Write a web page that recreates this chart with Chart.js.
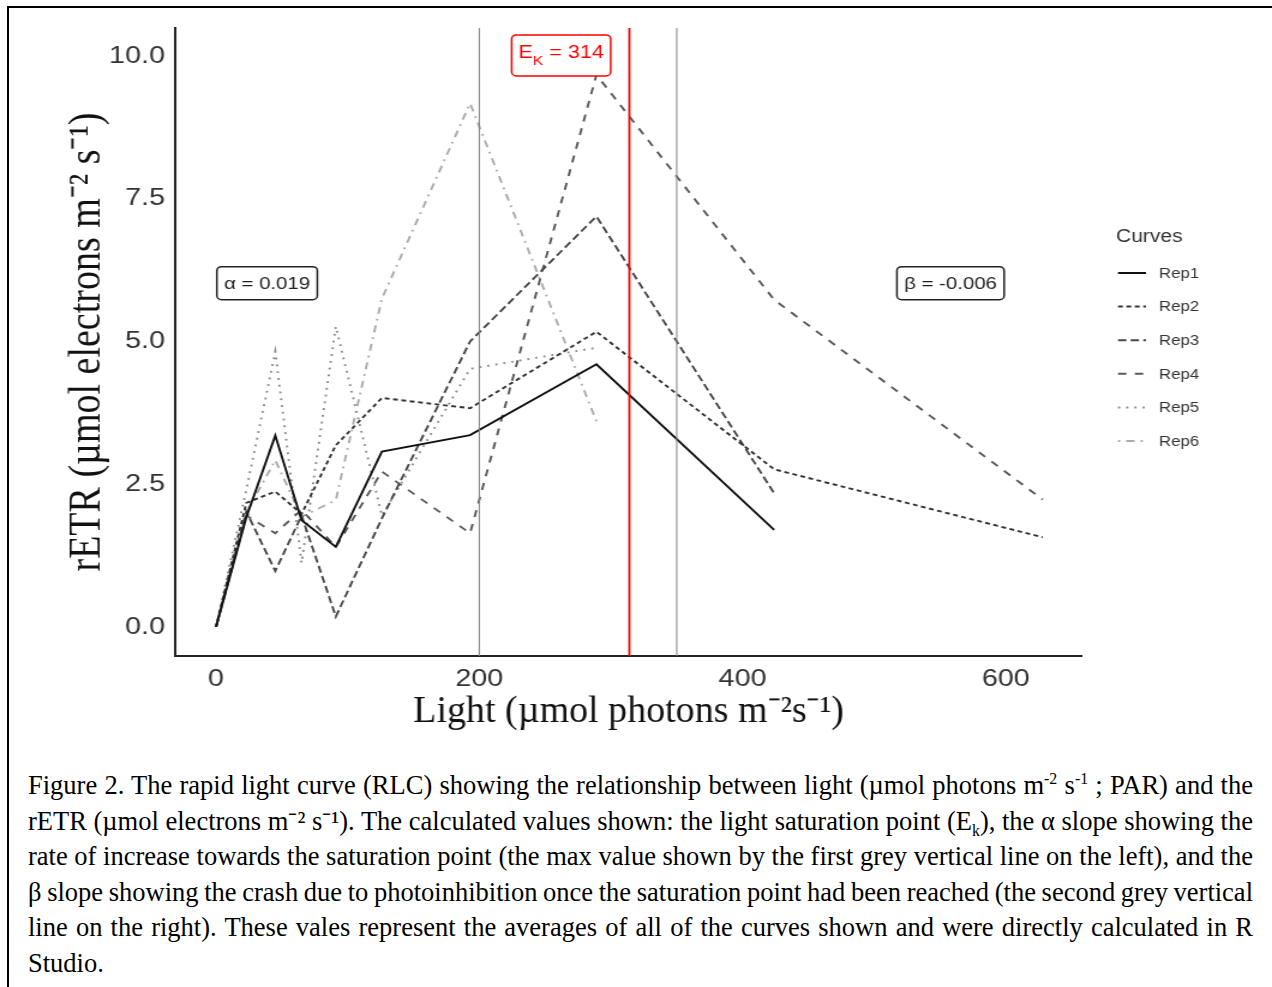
<!DOCTYPE html>
<html>
<head>
<meta charset="utf-8">
<script src="https://cdn.jsdelivr.net/npm/chart.js@4/dist/chart.umd.min.js"></script>
<style>
  html, body { margin: 0; padding: 0; background: #fff; }
  body { width: 1272px; height: 987px; position: relative; overflow: hidden; }
  #frame { position: absolute; left: 7px; top: 6px; width: 1300px; height: 1000px; border: 2px solid #000; box-sizing: border-box; }
  #wrap { position: absolute; left: 0; top: 0; width: 1060px; height: 760px; transform: scaleX(1.2); transform-origin: 0 0; }
  #caption { position: absolute; left: 28px; top: 768px; width: 1225px; font-family: "Liberation Serif", "Times New Roman", serif; font-size: 26.5px; word-spacing: -0.5px; line-height: 35.5px; color: #000; }
  #caption .ln { white-space: nowrap; text-align: justify; text-align-last: justify; height: 35.5px; }
  #caption .ln.tight { word-spacing: -2.5px; }
  #caption .ln.last { text-align-last: left; }
  #caption sup, #caption sub { font-size: 0.6em; line-height: 0; }
</style>
</head>
<body>
<div id="frame"></div>
<div id="wrap"><canvas id="myChart" width="1060" height="760"></canvas></div>
<div id="caption">
  <div class="ln">Figure 2. The rapid light curve (RLC) showing the relationship between light (µmol photons m<sup>-2</sup> s<sup>-1</sup> ; PAR) and the</div>
  <div class="ln">rETR (µmol electrons m⁻² s⁻¹). The calculated values shown: the light saturation point (E<sub>k</sub>), the α slope showing the</div>
  <div class="ln">rate of increase towards the saturation point (the max value shown by the first grey vertical line on the left), and the</div>
  <div class="ln tight">β slope showing the crash due to photoinhibition once the saturation point had been reached (the second grey vertical</div>
  <div class="ln">line on the right). These vales represent the averages of all of the curves shown and were directly calculated in R</div>
  <div class="ln last">Studio.</div>
</div>
<script>
// light steps (PAR) and rETR per replicate
const light = [0, 23, 45, 65, 91, 126, 193, 289, 424, 628];
const rep1 = [0, 1.92, 3.35, 1.87, 1.40, 3.07, 3.36, 4.60, 1.70];
const rep2 = [0, 2.17, 2.37, 1.98, 3.18, 4.01, 3.83, 5.17, 2.76, 1.57];
const rep3 = [0, 2.02, 0.98, 1.95, 0.18, 1.90, 5.00, 7.19, 2.34];
const rep4 = [0, 1.95, 1.64, 2.05, 1.40, 2.72, 1.64, 9.67, 5.73, 2.23];
const rep5 = [0, 2.40, 4.82, 1.12, 5.26, 1.95, 4.52, 4.89];
const rep6 = [0, 2.00, 2.92, 1.93, 2.22, 5.75, 9.17, 3.60];

const xTicks = [0, 200, 400, 600];
const yTicks = [0, 2.5, 5, 7.5, 10];

// fitted values
const alphaLimit = 200;
const betaLimit = 350;
const ek = 314;
const alphaText = 'α = 0.019';
const betaText = 'β = -0.006';
const xTitle = 'Light (µmol photons m⁻²s⁻¹)';

const sans = "'Liberation Sans', Arial, sans-serif";
const serif = "'Liberation Serif', 'Times New Roman', serif";
const stretch = 1.2; // the wrapper is stretched horizontally by this much

function pts (ys) {
  return ys.map((v, i) => ({ x: light[i], y: v }));
}

const series = [
  { label: 'Rep1', data: pts(rep1), borderColor: '#111111', borderDash: [] },
  { label: 'Rep2', data: pts(rep2), borderColor: '#333333', borderDash: [4, 3] },
  { label: 'Rep3', data: pts(rep3), borderColor: '#474747', borderDash: [7, 3.5] },
  { label: 'Rep4', data: pts(rep4), borderColor: '#585858', borderDash: [7, 7] },
  { label: 'Rep5', data: pts(rep5), borderColor: '#8a8a8a', borderDash: [1.8, 5] },
  { label: 'Rep6', data: pts(rep6), borderColor: '#ababab', borderDash: [1.8, 5, 7, 5] }
];

function labelBox (ctx, cx, cy, w, h, color) {
  ctx.beginPath();
  ctx.roundRect(cx - w / 2, cy - h / 2, w, h, 4);
  ctx.fillStyle = '#fff';
  ctx.fill();
  ctx.lineWidth = 1.5;
  ctx.strokeStyle = color;
  ctx.stroke();
}

const extras = {
  id: 'extras',
  afterDatasetsDraw (chart) {
    const { ctx, chartArea: a, scales: { x, y } } = chart;
    ctx.save();

    // saturation limits + Ek
    [[alphaLimit, '#808080', 1], [betaLimit, '#808080', 1], [ek, '#ff0000', 1.8]].forEach(([v, c, w]) => {
      const px = x.getPixelForValue(v);
      ctx.strokeStyle = c;
      ctx.lineWidth = w;
      ctx.setLineDash([]);
      ctx.beginPath();
      ctx.moveTo(px, a.top);
      ctx.lineTo(px, a.bottom);
      ctx.stroke();
    });

    // alpha / beta labels
    ctx.font = '17px ' + sans;
    ctx.textBaseline = 'middle';
    ctx.textAlign = 'center';
    [[alphaText, 38.8], [betaText, 558]].forEach(([t, v]) => {
      const cx = x.getPixelForValue(v);
      const cy = y.getPixelForValue(6.02);
      const w = ctx.measureText(t).width + 12;
      labelBox(ctx, cx, cy, w, 33, '#222');
      ctx.fillStyle = '#222';
      ctx.fillText(t, cx, cy + 1);
    });

    // Ek label
    const ex = x.getPixelForValue(262.2);
    const ey = y.getPixelForValue(10.01);
    ctx.textAlign = 'left';
    ctx.textBaseline = 'alphabetic';
    ctx.font = '18px ' + sans;
    const wE = ctx.measureText('E').width;
    const wR = ctx.measureText(' = ' + ek).width;
    ctx.font = '13px ' + sans;
    const wK = ctx.measureText('K').width;
    const tw = wE + wK + wR;
    labelBox(ctx, ex, ey, 82.5, 41, '#ff0000');
    ctx.fillStyle = '#ff0000';
    let tx = ex - tw / 2;
    ctx.font = '18px ' + sans;
    ctx.fillText('E', tx, ey + 3);
    tx += wE;
    ctx.font = '13px ' + sans;
    ctx.fillText('K', tx, ey + 10);
    tx += wK;
    ctx.font = '18px ' + sans;
    ctx.fillText(' = ' + ek, tx, ey + 3);

    // x title, drawn un-stretched
    ctx.save();
    ctx.translate((a.left + a.right) / 2, 712);
    ctx.scale(1 / stretch, 1);
    ctx.font = '38px ' + serif;
    ctx.fillStyle = '#111';
    ctx.textAlign = 'center';
    ctx.textBaseline = 'middle';
    ctx.fillText(xTitle, 0, 0);
    ctx.restore();

    // legend
    ctx.textAlign = 'left';
    ctx.fillStyle = '#333';
    ctx.font = '17.5px ' + sans;
    ctx.textBaseline = 'middle';
    ctx.fillText('Curves', 930, 237);
    ctx.font = '14px ' + sans;
    chart.data.datasets.forEach((ds, i) => {
      const ly = 273 + i * 33.6;
      ctx.strokeStyle = ds.borderColor;
      ctx.lineWidth = 2;
      ctx.setLineDash(ds.borderDash);
      ctx.beginPath();
      ctx.moveTo(931.7, ly);
      ctx.lineTo(955, ly);
      ctx.stroke();
      ctx.fillStyle = '#333';
      ctx.fillText(ds.label, 965.8, ly + 1);
    });
    ctx.restore();
  }
};

const ctx = document.getElementById('myChart');

const myChart = new Chart(ctx, {
  type: 'line',
  data: {
    datasets: series.map(s => ({
      label: s.label,
      data: s.data,
      borderColor: s.borderColor,
      borderDash: s.borderDash,
      borderWidth: 1.9,
      borderCapStyle: 'butt',
      pointRadius: 0,
      fill: false,
      tension: 0
    }))
  },
  options: {
    responsive: false,
    animation: false,
    layout: { padding: { left: 0, top: 28, right: 158.3, bottom: 0 } },
    plugins: {
      legend: { display: false },
      tooltip: { enabled: false }
    },
    scales: {
      x: {
        type: 'linear',
        min: -31.2,
        max: 657.9,
        grid: { display: false, drawTicks: false },
        border: { display: true, color: '#222', width: 2 },
        afterBuildTicks: (scale) => { scale.ticks = xTicks.map(v => ({ value: v })); },
        afterFit: (scale) => { scale.height = 104; },
        ticks: {
          autoSkip: false,
          maxRotation: 0,
          padding: 9,
          color: '#333',
          font: { family: sans, size: 24 },
          callback: (v) => String(v)
        },
        title: { display: false }
      },
      y: {
        min: -0.51,
        max: 10.49,
        grid: { display: false, drawTicks: false },
        border: { display: true, color: '#222', width: 2 },
        afterBuildTicks: (scale) => { scale.ticks = yTicks.map(v => ({ value: v })); },
        afterFit: (scale) => { scale.width = 145.8; },
        ticks: {
          autoSkip: false,
          padding: 8.3,
          color: '#333',
          font: { family: sans, size: 24 },
          callback: (v) => v.toFixed(1)
        },
        title: {
          display: true,
          text: 'rETR (µmol electrons m⁻² s⁻¹)',
          color: '#111',
          font: { family: serif, size: 38 },
          padding: { top: 50.5, bottom: 0 }
        }
      }
    }
  },
  plugins: [extras]
});
</script>
</body>
</html>
